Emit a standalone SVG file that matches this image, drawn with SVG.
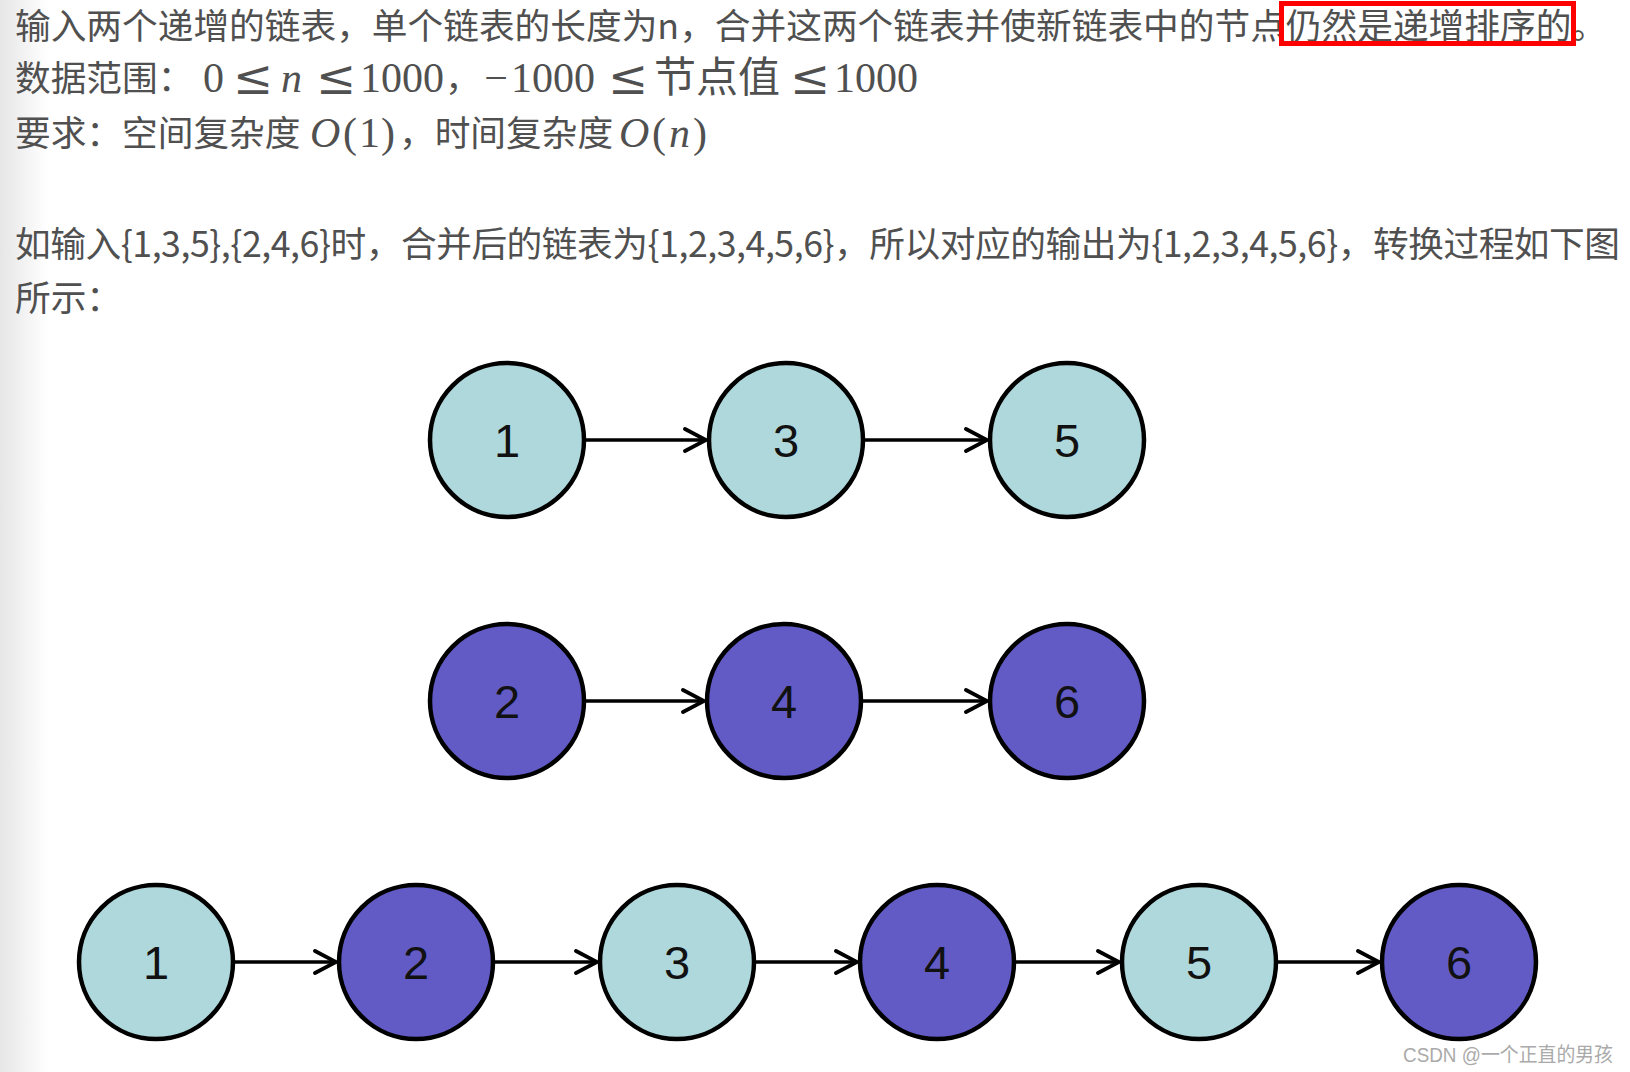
<svg xmlns="http://www.w3.org/2000/svg" width="1630" height="1072" viewBox="0 0 1630 1072">
<defs>
<linearGradient id="shade" x1="0" y1="0" x2="1" y2="0">
<stop offset="0" stop-color="#e6e6e6"/>
<stop offset="1" stop-color="#ffffff"/>
</linearGradient>
<marker id="arr" markerUnits="userSpaceOnUse" markerWidth="30" markerHeight="30" viewBox="-26 -15 30 30" refX="0" refY="0" orient="auto">
<path d="M-21,-11 L0,0 L-21,11" fill="none" stroke="#000" stroke-width="3.8" stroke-linecap="round" stroke-linejoin="miter"/>
</marker>
<style>
.t{font-family:"Noto Sans CJK SC","Noto Sans",sans-serif;font-size:35.7px;fill:#505050}
.m{font-family:"Liberation Serif","DejaVu Serif",serif;font-size:42px;fill:#505050}
.mi{font-style:italic}
.op{font-family:"DejaVu Serif",serif;font-size:48px;fill:#505050}
.mn{font-family:"Liberation Serif",serif;font-size:42px;fill:#505050;text-anchor:middle}
.c{font-family:"Noto Sans CJK SC",sans-serif;font-size:42px;fill:#505050}
.a{stroke:#000;stroke-width:3.5;fill:none;marker-end:url(#arr)}
.n circle{stroke:#000;stroke-width:4.5}
.teal circle{fill:#aed8dc}
.purp circle{fill:#625bc5}
.n text{font-family:"Liberation Sans",Arial,sans-serif;font-size:47px;fill:#111;text-anchor:middle}
.wm{font-family:"Liberation Sans","Noto Sans CJK SC",sans-serif;font-size:20px;fill:#aaa}
</style>
</defs>
<rect x="0" y="0" width="1630" height="1072" fill="#fff"/>
<rect x="0" y="0" width="48" height="1072" fill="url(#shade)"/>

<g id="description">
<text class="t" x="15" y="39">输入两个递增的链表，单个链表的长度为n，合并这两个链表并使新链表中的节点仍然是递增排序的。</text>
<rect x="1281.5" y="3.5" width="292" height="40" fill="none" stroke="#f00" stroke-width="5"/>
<text class="t" x="15" y="91">数据范围：</text>
<text class="m" x="203" y="92">0</text>
<text class="op" x="233" y="94">≤</text>
<text class="m mi" x="281" y="92">n</text>
<text class="op" x="316" y="94">≤</text>
<text class="m" x="360" y="92">1000</text>
<text class="t" x="445" y="91">，</text>
<text class="mn" x="496" y="92">−</text>
<text class="m" x="511" y="92">1000</text>
<text class="op" x="608" y="94">≤</text>
<text class="c" x="654" y="92">节点值</text>
<text class="op" x="790" y="94">≤</text>
<text class="m" x="834" y="92">1000</text>
<text class="t" x="15" y="146">要求：空间复杂度</text>
<text class="m" y="147"><tspan class="mi" x="310">O</tspan><tspan x="343">(</tspan><tspan x="359">1</tspan><tspan x="381">)</tspan></text>
<text class="t" x="399" y="146">，时间复杂度</text>
<text class="m" y="147"><tspan class="mi" x="619">O</tspan><tspan x="652">(</tspan><tspan class="mi" x="669">n</tspan><tspan x="693">)</tspan></text>
<text class="t" x="15" y="257" textLength="1605" lengthAdjust="spacing">如输入{1,3,5},{2,4,6}时，合并后的链表为{1,2,3,4,5,6}，所以对应的输出为{1,2,3,4,5,6}，转换过程如下图</text>
<text class="t" x="15" y="311">所示：</text>
</g>

<g id="connectors">
<line class="a" x1="586" y1="440" x2="706" y2="440"/>
<line class="a" x1="865" y1="440" x2="987" y2="440"/>
<line class="a" x1="586" y1="701" x2="704" y2="701"/>
<line class="a" x1="863" y1="701" x2="987" y2="701"/>
<line class="a" x1="235" y1="962" x2="336" y2="962"/>
<line class="a" x1="495" y1="962" x2="597" y2="962"/>
<line class="a" x1="756" y1="962" x2="857" y2="962"/>
<line class="a" x1="1016" y1="962" x2="1119" y2="962"/>
<line class="a" x1="1278" y1="962" x2="1379" y2="962"/>
</g>

<g id="list1-node1" class="n teal"><circle cx="507" cy="440" r="77"/><text x="507" y="457">1</text></g>
<g id="list1-node3" class="n teal"><circle cx="786" cy="440" r="77"/><text x="786" y="457">3</text></g>
<g id="list1-node5" class="n teal"><circle cx="1067" cy="440" r="77"/><text x="1067" y="457">5</text></g>

<g id="list2-node2" class="n purp"><circle cx="507" cy="701" r="77"/><text x="507" y="718">2</text></g>
<g id="list2-node4" class="n purp"><circle cx="784" cy="701" r="77"/><text x="784" y="718">4</text></g>
<g id="list2-node6" class="n purp"><circle cx="1067" cy="701" r="77"/><text x="1067" y="718">6</text></g>

<g id="merged-node1" class="n teal"><circle cx="156" cy="962" r="77"/><text x="156" y="979">1</text></g>
<g id="merged-node2" class="n purp"><circle cx="416" cy="962" r="77"/><text x="416" y="979">2</text></g>
<g id="merged-node3" class="n teal"><circle cx="677" cy="962" r="77"/><text x="677" y="979">3</text></g>
<g id="merged-node4" class="n purp"><circle cx="937" cy="962" r="77"/><text x="937" y="979">4</text></g>
<g id="merged-node5" class="n teal"><circle cx="1199" cy="962" r="77"/><text x="1199" y="979">5</text></g>
<g id="merged-node6" class="n purp"><circle cx="1459" cy="962" r="77"/><text x="1459" y="979">6</text></g>

<text class="wm" x="1403" y="1062" textLength="210" lengthAdjust="spacingAndGlyphs">CSDN @一个正直的男孩</text>
</svg>
